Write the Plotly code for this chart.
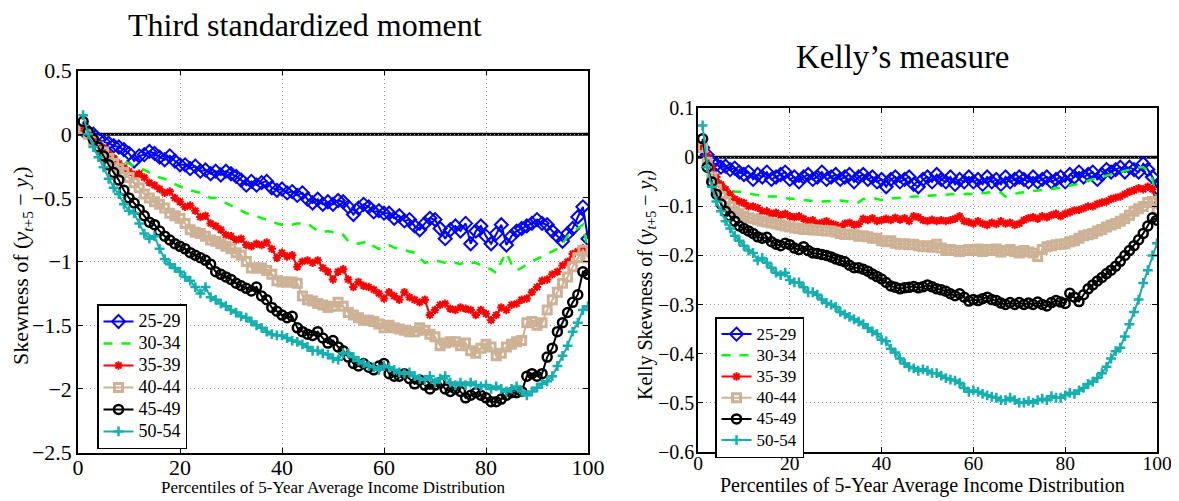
import plotly.graph_objects as go

percentiles = list(range(1, 101))
groups = ["25-29", "30-34", "35-39", "40-44", "45-49", "50-54"]

# ---- Third standardized moment ----
m3_25_29 = [0.03, 0.02, 0.0, -0.04, -0.06, -0.07, -0.09, -0.1, -0.12, -0.15,
            -0.21, -0.17, -0.16, -0.135, -0.15, -0.18, -0.2, -0.17, -0.21, -0.24,
            -0.24, -0.27, -0.25, -0.29, -0.28, -0.31, -0.29, -0.32, -0.29, -0.31,
            -0.33, -0.36, -0.4, -0.37, -0.4, -0.38, -0.37, -0.42, -0.44, -0.43,
            -0.46, -0.45, -0.48, -0.46, -0.51, -0.54, -0.51, -0.55, -0.53, -0.55,
            -0.52, -0.53, -0.57, -0.63, -0.58, -0.55, -0.57, -0.61, -0.6, -0.62,
            -0.62, -0.66, -0.64, -0.68, -0.67, -0.72, -0.75, -0.7, -0.66, -0.67,
            -0.74, -0.82, -0.75, -0.72, -0.76, -0.7, -0.86, -0.76, -0.72, -0.8,
            -0.86, -0.78, -0.71, -0.87, -0.8, -0.76, -0.74, -0.72, -0.7, -0.67,
            -0.7, -0.71, -0.76, -0.8, -0.84, -0.78, -0.74, -0.65, -0.57, -0.82]
m3_30_34 = [0.04, 0.02, -0.03, -0.07, -0.1, -0.13, -0.16, -0.19, -0.21, -0.23,
            -0.25, -0.27, -0.28, -0.3, -0.32, -0.34, -0.35, -0.37, -0.39, -0.41,
            -0.42, -0.44, -0.45, -0.46, -0.48, -0.5, -0.5, -0.52, -0.54, -0.56,
            -0.58, -0.6, -0.62, -0.63, -0.64, -0.66, -0.67, -0.69, -0.7, -0.71,
            -0.72, -0.71, -0.7, -0.7, -0.7, -0.73, -0.76, -0.77, -0.76, -0.77,
            -0.77, -0.79, -0.84, -0.85, -0.86, -0.85, -0.84, -0.88, -0.9, -0.88,
            -0.87, -0.89, -0.9, -0.91, -0.92, -0.93, -0.97, -1.01, -1.0, -0.99,
            -1.0, -1.01, -1.02, -1.01, -1.02, -1.0, -1.01, -1.01, -1.03, -1.05,
            -1.06, -1.09, -1.0, -0.93, -1.02, -1.07, -1.05, -1.02, -1.0, -0.98,
            -0.96, -0.94, -0.92, -0.9, -0.86, -0.8, -0.76, -0.74, -0.71, -0.92]
m3_35_39 = [0.03, 0.0, -0.04, -0.08, -0.11, -0.15, -0.19, -0.23, -0.26, -0.29,
            -0.32, -0.31, -0.34, -0.38, -0.4, -0.43, -0.46, -0.45, -0.5, -0.53,
            -0.57, -0.56, -0.6, -0.65, -0.64, -0.7, -0.72, -0.75, -0.79, -0.8,
            -0.83, -0.82, -0.87, -0.88, -0.86, -0.87, -0.85, -0.9, -0.97, -0.93,
            -0.96, -0.95, -1.04, -1.0, -0.99, -1.01, -0.99, -1.05, -1.08, -1.14,
            -1.08, -1.06, -1.14, -1.2, -1.16, -1.19, -1.2, -1.22, -1.25, -1.29,
            -1.24, -1.27, -1.3, -1.24, -1.28, -1.3, -1.32, -1.3, -1.42, -1.38,
            -1.34, -1.33, -1.37, -1.38, -1.36, -1.37, -1.38, -1.42, -1.38, -1.41,
            -1.46, -1.42, -1.36, -1.38, -1.34, -1.33, -1.3, -1.29, -1.24, -1.2,
            -1.15, -1.14, -1.1, -1.08, -1.03, -1.0, -0.94, -0.92, -0.895, -0.92]
m3_40_44 = [0.04, 0.0, -0.05, -0.1, -0.14, -0.19, -0.23, -0.27, -0.3, -0.34,
            -0.38, -0.42, -0.47, -0.5, -0.53, -0.55, -0.58, -0.62, -0.64, -0.66,
            -0.7, -0.75, -0.77, -0.78, -0.8, -0.83, -0.84, -0.86, -0.88, -0.9,
            -0.93, -0.95, -1.0, -1.05, -1.05, -1.05, -1.07, -1.1, -1.15, -1.16,
            -1.16, -1.16, -1.17, -1.27, -1.3, -1.31, -1.33, -1.34, -1.36, -1.35,
            -1.32, -1.35, -1.4, -1.42, -1.44, -1.46, -1.46, -1.47, -1.49, -1.52,
            -1.5, -1.52, -1.53, -1.54, -1.55, -1.55, -1.52, -1.54, -1.57, -1.59,
            -1.66, -1.64, -1.63, -1.63, -1.66, -1.64, -1.7, -1.72, -1.68, -1.65,
            -1.67, -1.74, -1.72, -1.67, -1.65, -1.63, -1.62, -1.48, -1.47, -1.5,
            -1.48, -1.38, -1.3, -1.24, -1.17, -1.12, -1.04, -0.97, -0.91, -0.97]
m3_45_49 = [0.1, 0.02, -0.04, -0.1, -0.17, -0.24, -0.3, -0.36, -0.44, -0.5,
            -0.54, -0.59, -0.64, -0.69, -0.71, -0.76, -0.8, -0.83, -0.86, -0.88,
            -0.9, -0.93, -0.95, -0.97, -0.99, -1.02, -1.08, -1.1, -1.12, -1.14,
            -1.17, -1.19, -1.21, -1.23, -1.2, -1.27, -1.3, -1.36, -1.39, -1.42,
            -1.44, -1.43, -1.52, -1.55, -1.57, -1.58, -1.55, -1.6, -1.64, -1.62,
            -1.67, -1.7, -1.75, -1.8, -1.82, -1.8, -1.83, -1.85, -1.82, -1.8,
            -1.88, -1.9, -1.9, -1.88, -1.92, -1.96, -1.93, -1.97, -2.0, -1.97,
            -1.95, -2.0, -2.02, -2.0, -2.02, -2.07, -2.05, -2.03, -2.05, -2.07,
            -2.1, -2.1, -2.08, -2.05, -2.03, -2.03, -2.02, -1.9, -1.88, -1.9,
            -1.88, -1.75, -1.68, -1.55, -1.48, -1.4, -1.32, -1.26, -1.08, -1.1]
m3_50_54 = [0.15, 0.0, -0.1, -0.18, -0.26, -0.35, -0.42, -0.47, -0.55, -0.6,
            -0.62, -0.7, -0.78, -0.82, -0.8, -0.9, -0.98, -1.02, -1.05, -1.08,
            -1.12, -1.15, -1.2, -1.25, -1.2, -1.28, -1.3, -1.33, -1.35, -1.38,
            -1.4, -1.43, -1.44, -1.47, -1.5, -1.52, -1.55, -1.57, -1.58, -1.58,
            -1.6, -1.62, -1.63, -1.65, -1.67, -1.7, -1.7, -1.72, -1.73, -1.76,
            -1.77, -1.72, -1.72, -1.75, -1.78, -1.8, -1.82, -1.83, -1.85, -1.82,
            -1.83, -1.85, -1.87, -1.88, -1.87, -1.9, -1.92, -1.93, -1.9, -1.95,
            -1.92, -1.9, -1.95, -1.97, -1.95, -1.97, -1.95, -1.97, -1.98, -1.97,
            -2.0, -1.98, -2.0, -2.02, -2.0, -1.98, -2.02, -2.05, -2.02, -1.99,
            -1.96, -1.94, -1.9, -1.82, -1.74, -1.66, -1.55, -1.48, -1.38, -1.35]

# ---- Kelly's measure ----
k_25_29 = [0.02, 0.005, -0.01, -0.015, -0.02, -0.018, -0.025, -0.022, -0.03, -0.035,
           -0.03, -0.045, -0.035, -0.04, -0.03, -0.045, -0.04, -0.035, -0.03, -0.045,
           -0.04, -0.05, -0.04, -0.035, -0.045, -0.04, -0.03, -0.045, -0.04, -0.035,
           -0.045, -0.04, -0.035, -0.05, -0.04, -0.035, -0.045, -0.04, -0.05, -0.045,
           -0.06, -0.045, -0.04, -0.05, -0.045, -0.04, -0.055, -0.06, -0.045, -0.04,
           -0.05, -0.035, -0.045, -0.05, -0.04, -0.055, -0.045, -0.05, -0.04, -0.05,
           -0.045, -0.055, -0.04, -0.05, -0.045, -0.055, -0.04, -0.05, -0.045, -0.04,
           -0.045, -0.05, -0.04, -0.05, -0.045, -0.04, -0.05, -0.045, -0.04, -0.05,
           -0.035, -0.04, -0.03, -0.04, -0.035, -0.03, -0.045, -0.035, -0.025, -0.03,
           -0.025, -0.02, -0.03, -0.02, -0.025, -0.03, -0.013, -0.025, -0.04, -0.062]
k_30_34 = [0.02, 0.0, -0.02, -0.04, -0.05, -0.06, -0.065, -0.07, -0.07, -0.072,
           -0.074, -0.075, -0.077, -0.078, -0.08, -0.08, -0.08, -0.082, -0.083, -0.085,
           -0.085, -0.087, -0.088, -0.088, -0.089, -0.09, -0.09, -0.089, -0.088, -0.088,
           -0.088, -0.089, -0.09, -0.09, -0.092, -0.085, -0.083, -0.082, -0.085, -0.087,
           -0.085, -0.084, -0.084, -0.083, -0.082, -0.081, -0.08, -0.08, -0.079, -0.078,
           -0.078, -0.077, -0.077, -0.076, -0.075, -0.075, -0.074, -0.075, -0.074, -0.075,
           -0.074, -0.073, -0.072, -0.071, -0.07, -0.072, -0.08, -0.078, -0.075, -0.072,
           -0.071, -0.07, -0.069, -0.068, -0.067, -0.066, -0.065, -0.064, -0.062, -0.06,
           -0.058, -0.056, -0.054, -0.05, -0.047, -0.045, -0.042, -0.04, -0.037, -0.035,
           -0.032, -0.03, -0.028, -0.025, -0.022, -0.02, -0.02, -0.028, -0.045, -0.09]
k_35_39 = [0.02, 0.005, -0.02, -0.04, -0.055, -0.065, -0.075, -0.085, -0.09, -0.093,
           -0.1, -0.1, -0.103, -0.11, -0.11, -0.115, -0.113, -0.118, -0.115, -0.12,
           -0.122, -0.12, -0.125, -0.13, -0.128, -0.135, -0.133, -0.13, -0.135, -0.138,
           -0.142, -0.135, -0.133, -0.138, -0.136, -0.125, -0.128, -0.124, -0.13, -0.128,
           -0.125, -0.128, -0.123, -0.127, -0.124, -0.13, -0.12, -0.122, -0.128, -0.13,
           -0.127, -0.13, -0.128, -0.13, -0.128, -0.125, -0.12, -0.13, -0.132, -0.135,
           -0.13, -0.135, -0.138, -0.133, -0.136, -0.13, -0.135, -0.133, -0.138, -0.135,
           -0.128, -0.124, -0.122, -0.125, -0.12, -0.122, -0.118, -0.115, -0.12, -0.115,
           -0.112, -0.108, -0.107, -0.104, -0.1, -0.1, -0.095, -0.092, -0.09, -0.085,
           -0.082, -0.08, -0.075, -0.07, -0.067, -0.063, -0.065, -0.06, -0.065, -0.097]
k_40_44 = [0.02, -0.01, -0.04, -0.065, -0.08, -0.09, -0.1, -0.11, -0.115, -0.12,
           -0.123, -0.125, -0.127, -0.13, -0.132, -0.134, -0.136, -0.138, -0.14, -0.142,
           -0.144, -0.145, -0.147, -0.146, -0.148, -0.148, -0.149, -0.15, -0.15, -0.152,
           -0.155, -0.157, -0.156, -0.158, -0.161, -0.16, -0.162, -0.165, -0.165, -0.17,
           -0.172, -0.17, -0.175, -0.177, -0.176, -0.178, -0.177, -0.18, -0.182, -0.18,
           -0.183, -0.177, -0.185, -0.19, -0.188, -0.19, -0.192, -0.19, -0.188, -0.19,
           -0.187, -0.192, -0.188, -0.19, -0.187, -0.193, -0.19, -0.188, -0.192, -0.195,
           -0.19, -0.193, -0.195, -0.202, -0.188, -0.182, -0.18, -0.178, -0.177, -0.176,
           -0.172, -0.17, -0.165, -0.16, -0.158, -0.155, -0.15, -0.147, -0.142, -0.138,
           -0.135, -0.13, -0.125, -0.118, -0.11, -0.105, -0.1, -0.092, -0.09, -0.106]
k_45_49 = [0.038, -0.02, -0.05, -0.075, -0.095, -0.11, -0.12, -0.13, -0.14, -0.145,
           -0.15, -0.155, -0.162, -0.165, -0.163, -0.172, -0.177, -0.18, -0.175, -0.178,
           -0.185, -0.188, -0.182, -0.19, -0.195, -0.196, -0.198, -0.2, -0.203, -0.207,
           -0.21, -0.213, -0.22, -0.225, -0.225, -0.228, -0.232, -0.238, -0.243, -0.248,
           -0.255, -0.262, -0.265, -0.268, -0.266, -0.265, -0.263, -0.266, -0.264, -0.26,
           -0.264, -0.268, -0.27, -0.273, -0.278, -0.282, -0.278, -0.285, -0.293, -0.29,
           -0.292, -0.288, -0.285, -0.29, -0.292, -0.297, -0.3, -0.296, -0.3, -0.296,
           -0.3, -0.297, -0.3, -0.295, -0.3, -0.303, -0.296, -0.292, -0.295, -0.298,
           -0.277, -0.285, -0.294, -0.28, -0.268, -0.26, -0.252, -0.245, -0.237, -0.23,
           -0.222, -0.212, -0.2, -0.19, -0.18, -0.168, -0.155, -0.14, -0.123, -0.128]
k_50_54 = [0.065, -0.02, -0.06, -0.09, -0.11, -0.13, -0.145, -0.16, -0.17, -0.18,
           -0.19, -0.195, -0.21, -0.205, -0.215, -0.225, -0.235, -0.24, -0.235, -0.25,
           -0.255, -0.255, -0.265, -0.275, -0.275, -0.28, -0.29, -0.297, -0.3, -0.305,
           -0.315, -0.32, -0.325, -0.33, -0.335, -0.34, -0.348, -0.355, -0.36, -0.372,
           -0.375, -0.39, -0.398, -0.41, -0.42, -0.427, -0.43, -0.435, -0.432, -0.435,
           -0.44, -0.44, -0.445, -0.45, -0.453, -0.455, -0.46, -0.47, -0.478, -0.475,
           -0.478, -0.482, -0.485, -0.488, -0.49, -0.495, -0.495, -0.49, -0.495, -0.5,
           -0.5, -0.497, -0.5, -0.495, -0.492, -0.495, -0.487, -0.49, -0.49, -0.485,
           -0.48, -0.482, -0.475, -0.47, -0.462, -0.457, -0.45, -0.44, -0.427, -0.41,
           -0.395, -0.388, -0.365, -0.34, -0.315, -0.29, -0.256, -0.23, -0.2, -0.175]

m3_series = [m3_25_29, m3_30_34, m3_35_39, m3_40_44, m3_45_49, m3_50_54]
k_series = [k_25_29, k_30_34, k_35_39, k_40_44, k_45_49, k_50_54]

styles = [
    dict(color="rgb(0,0,255)", dash="solid", symbol="diamond-open", size=10, mlw=2),
    dict(color="rgb(0,255,0)", dash="dash", symbol=None, size=0, mlw=0),
    dict(color="rgb(255,0,0)", dash="solid", symbol="asterisk-open", size=7, mlw=2),
    dict(color="rgb(205,178,150)", dash="solid", symbol="square-open", size=8, mlw=3),
    dict(color="rgb(0,0,0)", dash="solid", symbol="circle-open", size=9, mlw=2.5),
    dict(color="rgb(20,175,175)", dash="solid", symbol="cross-thin-open", size=7, mlw=2.5),
]

FONT = "Liberation Serif"
fig = go.Figure()

panels = [(m3_series, "x", "y", "legend", 18), (k_series, "x2", "y2", "legend2", 17)]
for series, xa, ya, leg, lfs in panels:
    for name, vals, st in zip(groups, series, styles):
        if st["symbol"]:
            mode = "lines+markers"
            marker = dict(symbol=st["symbol"], size=st["size"], color=st["color"],
                          line=dict(color=st["color"], width=st["mlw"]))
        else:
            mode = "lines"
            marker = None
        fig.add_trace(go.Scatter(
            x=percentiles, y=vals,
            name='<span style="font-size:%dpx">%s</span>' % (lfs, name),
            mode=mode, xaxis=xa, yaxis=ya, legend=leg,
            line=dict(color=st["color"], width=2.5 if st["dash"] == "dash" else 2,
                      dash=st["dash"]),
            marker=marker, showlegend=True))

# zero reference lines
fig.add_shape(type="line", xref="x", yref="y", x0=0, x1=100, y0=0, y1=0,
              line=dict(color="black", width=3), layer="below")
fig.add_shape(type="line", xref="x2", yref="y2", x0=0, x1=100, y0=0, y1=0,
              line=dict(color="black", width=3), layer="below")

# The page body has an 8px margin; convert window pixel positions to figure fractions.
OFF = 8
W, H = 1179, 501
def px_x(p): return (p - OFF) / W
def px_y(p): return 1 - (p - OFF) / H

axis_common = dict(showline=True, linecolor="black", linewidth=1.5, mirror="ticks",
                   ticks="inside", ticklen=5, tickcolor="black",
                   showgrid=True, gridcolor="rgb(150,150,150)", griddash="1px,3px",
                   gridwidth=1, zeroline=False, automargin=False,
                   color="black")

fig.update_layout(
    width=W, height=H,
    margin=dict(l=0, r=0, t=0, b=0),
    paper_bgcolor="white", plot_bgcolor="white",
    font=dict(family=FONT, color="black"),
    xaxis=dict(domain=[px_x(78), px_x(588)], range=[0, 100], dtick=20,
               anchor="y", tickfont=dict(size=22, family=FONT), ticklabelstandoff=-6,
               **axis_common),
    yaxis=dict(domain=[px_y(452.6), px_y(70.6)], range=[-2.5, 0.5], dtick=0.5,
               anchor="x", tickfont=dict(size=22, family=FONT), ticklabelstandoff=0,
               **axis_common),
    xaxis2=dict(domain=[px_x(698), px_x(1157)], range=[0, 100], dtick=20,
                anchor="y2", tickfont=dict(size=19.5, family=FONT), ticklabelstandoff=-7,
                **axis_common),
    yaxis2=dict(domain=[px_y(451.7), px_y(108.3)], range=[-0.6, 0.1], dtick=0.1,
                anchor="x2", tickfont=dict(size=20, family=FONT), ticklabelstandoff=-2,
                **axis_common),
    legend=dict(x=px_x(97), y=px_y(304), xanchor="left", yanchor="top",
                bgcolor="white", bordercolor="black", borderwidth=1.5,
                font=dict(size=14.6, family=FONT), tracegroupgap=0,
                itemwidth=30),
    legend2=dict(x=px_x(715), y=px_y(317), xanchor="left", yanchor="top",
                 bgcolor="white", bordercolor="black", borderwidth=1.5,
                 font=dict(size=14, family=FONT), tracegroupgap=0,
                 itemwidth=30),
    showlegend=True,
)

annotations = [
    dict(text="Third standardized moment", x=px_x(305), y=px_y(25), xref="paper", yref="paper",
         showarrow=False, font=dict(size=32, family=FONT), xanchor="center", yanchor="middle"),
    dict(text="Kelly\u2019s measure", x=px_x(903), y=px_y(57), xref="paper", yref="paper",
         showarrow=False, font=dict(size=33, family=FONT), xanchor="center", yanchor="middle"),
    dict(text="Percentiles of 5-Year Average Income Distribution", x=px_x(333), y=px_y(487),
         xref="paper", yref="paper", showarrow=False, font=dict(size=17, family=FONT),
         xanchor="center", yanchor="middle"),
    dict(text="Percentiles of 5-Year Average Income Distribution", x=px_x(922), y=px_y(485),
         xref="paper", yref="paper", showarrow=False, font=dict(size=20, family=FONT),
         xanchor="center", yanchor="middle"),
    dict(text="Skewness of (<i>y</i><sub><i>t</i>+5</sub> \u2212 <i>y</i><sub><i>t</i></sub>)",
         x=px_x(22), y=px_y(266), xref="paper", yref="paper", showarrow=False, textangle=-90,
         font=dict(size=22, family=FONT), xanchor="center", yanchor="middle"),
    dict(text="Kelly Skewness of (<i>y</i><sub><i>t</i>+5</sub> \u2212 <i>y</i><sub><i>t</i></sub>)",
         x=px_x(646), y=px_y(285), xref="paper", yref="paper", showarrow=False, textangle=-90,
         font=dict(size=20, family=FONT), xanchor="center", yanchor="middle"),
]
fig.update_layout(annotations=annotations)

fig.write_html("out.html")
